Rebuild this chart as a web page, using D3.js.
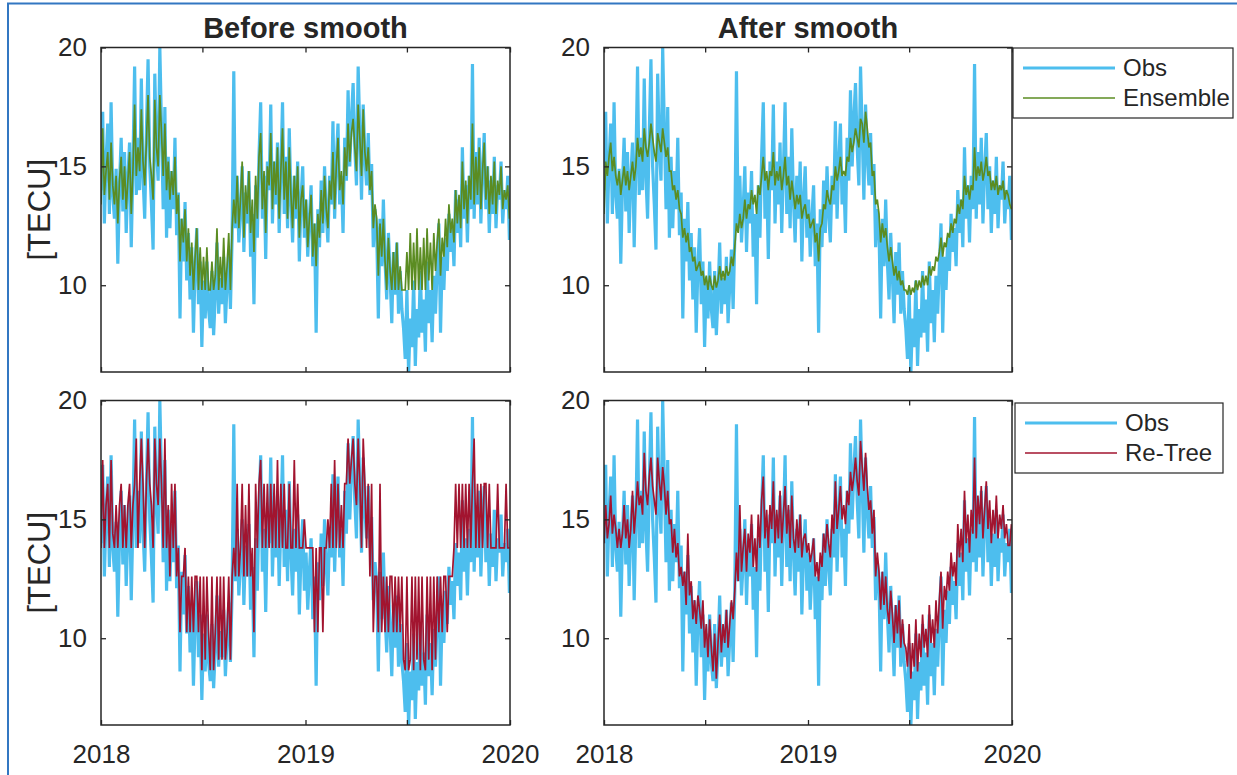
<!DOCTYPE html>
<html>
<head>
<meta charset="utf-8">
<script src="https://cdn.jsdelivr.net/npm/d3@7"></script>
<style>
  body { margin: 0; background: #fff; }
  svg { display: block; }
  text { font-family: "Liberation Sans", Arial, Helvetica, sans-serif; fill: #262626; }
</style>
</head>
<body>
<svg id="fig" width="1237" height="775"></svg>
<script>
// Daily TEC series sampled every third day, 1 Jan 2018 – 31 Dec 2019
const startDate = new Date(2018, 0, 1);
const stepDays = 3;

// Observed TEC [TECU]
const obs = [
  14.0, 17.3, 12.6, 15.2, 16.8, 13.0, 17.7, 13.8, 12.8, 14.9, 10.9, 14.2, 16.2, 13.1, 15.6, 12.2, 14.5, 16.0, 11.6, 15.0,
  19.2, 13.8, 16.2, 14.0, 18.7, 14.6, 12.8, 16.4, 19.5, 15.0, 13.4, 11.5, 18.9, 15.8, 14.4, 20.0, 16.6, 13.2, 17.5, 12.0,
  15.4, 12.4, 14.8, 13.2, 16.2, 12.1, 13.9, 8.6, 12.8, 11.0, 13.5, 10.2, 12.2, 9.4, 11.6, 8.0, 10.8, 12.4, 9.2, 11.0,
  7.4, 10.2, 8.6, 11.0, 9.0, 8.2, 10.6, 7.9, 9.6, 11.8, 8.8, 10.3, 9.2, 11.2, 8.4, 10.0, 11.5, 9.0, 12.0, 19.0,
  12.4, 14.6, 11.8, 13.2, 15.0, 11.4, 13.9, 12.6, 14.8, 11.2, 13.0, 9.2, 14.2, 12.0, 15.4, 17.7, 12.8, 14.6, 11.1, 15.2,
  14.0, 17.6, 12.6, 15.2, 13.4, 16.0, 12.2, 14.8, 17.7, 13.0, 15.4, 12.4, 16.6, 13.6, 11.8, 14.6, 12.8, 15.2, 11.0, 13.6,
  15.0, 12.0, 13.6, 11.2, 12.8, 14.2, 10.8, 12.6, 8.0, 13.2, 11.6, 14.4, 12.2, 15.0, 13.0, 11.8, 14.6, 13.4, 16.9, 12.8,
  15.2, 16.8, 13.4, 14.6, 12.2, 16.2, 14.4, 18.2, 15.0, 17.0, 18.5, 15.8, 14.2, 19.2, 16.4, 13.6, 17.6, 15.4, 14.2, 16.4,
  13.8, 15.1, 11.6, 13.2, 12.4, 8.6, 12.8, 10.8, 13.6, 11.0, 9.4, 12.2, 10.4, 8.4, 11.4, 9.6, 11.8, 8.8, 10.6, 9.0,
  8.2, 6.9, 9.8, 6.3, 8.6, 7.4, 10.2, 6.6, 9.0, 7.8, 10.6, 8.0, 9.4, 7.2, 11.0, 8.4, 9.8, 7.6, 10.4, 8.8,
  10.8, 12.6, 8.0, 11.2, 9.8, 12.0, 10.6, 13.0, 11.4, 12.4, 10.8, 14.0, 12.2, 13.6, 11.6, 15.8, 12.8, 14.2, 11.8, 14.6,
  13.2, 19.3, 12.8, 15.6, 13.4, 16.2, 12.6, 14.8, 16.4, 13.2, 15.0, 12.2, 14.4, 13.0, 15.4, 12.4, 14.2, 13.6, 15.2, 12.6,
  14.0, 13.2, 14.6, 11.9
];

// Ensemble model, before smoothing
const ensembleRaw = [
  13.4, 16.6, 13.8, 14.8, 15.6, 13.6, 16.0, 14.2, 13.4, 14.6, 12.6, 14.4, 15.4, 13.6, 15.0, 13.2, 14.4, 15.6, 13.0, 14.8,
  17.6, 14.6, 15.8, 14.8, 17.4, 15.2, 14.2, 16.0, 18.0, 15.4, 14.6, 13.6, 17.8, 15.8, 15.0, 18.0, 16.4, 14.6, 16.8, 14.0,
  15.2, 13.6, 14.8, 13.8, 15.4, 13.0, 13.8, 11.0, 12.8, 11.8, 13.2, 11.0, 12.4, 10.4, 11.8, 9.8, 11.2, 12.4, 9.8, 11.6,
  9.8, 11.2, 9.8, 11.6, 9.8, 9.8, 11.0, 9.8, 10.4, 12.4, 9.8, 11.2, 9.9, 12.0, 9.8, 10.8, 12.2, 9.8, 12.4, 13.6,
  12.6, 14.6, 12.4, 13.6, 15.2, 12.0, 14.2, 13.0, 14.8, 12.2, 13.6, 11.4, 14.6, 12.8, 15.4, 16.4, 13.2, 14.8, 12.2, 15.0,
  14.2, 16.4, 13.2, 15.2, 13.8, 15.8, 12.8, 14.8, 16.6, 13.6, 15.2, 12.8, 15.8, 13.8, 12.4, 14.6, 13.2, 15.0, 12.0, 13.6,
  14.2, 12.4, 13.6, 11.6, 12.8, 13.8, 11.2, 12.6, 10.8, 13.0, 12.0, 14.0, 12.6, 14.6, 13.2, 12.4, 14.4, 13.6, 15.6, 13.2,
  15.0, 16.2, 14.0, 14.8, 13.4, 15.8, 14.6, 16.8, 15.2, 16.4, 17.0, 15.8, 14.8, 17.6, 16.2, 14.6, 17.4, 15.6, 14.8, 15.8,
  14.0, 14.8, 12.4, 13.4, 12.8, 10.4, 12.6, 11.2, 12.8, 11.0, 9.8, 12.0, 10.6, 9.8, 11.4, 9.8, 11.8, 9.8, 10.8, 9.8,
  9.8, 9.8, 11.4, 9.8, 12.2, 9.8, 11.8, 9.8, 12.4, 9.8, 11.6, 9.8, 12.0, 9.8, 12.4, 10.2, 11.8, 9.8, 12.2, 10.6,
  11.8, 12.8, 10.4, 12.0, 11.2, 12.8, 11.6, 13.4, 12.2, 12.8, 11.8, 14.0, 12.6, 13.8, 12.4, 15.2, 13.2, 14.4, 12.6, 14.6,
  13.6, 16.8, 13.4, 15.4, 13.8, 15.8, 13.2, 14.8, 16.0, 13.6, 15.0, 13.0, 14.6, 13.4, 15.2, 13.0, 14.4, 13.8, 15.0, 13.2,
  14.0, 13.6, 14.2, 12.8
];

// Ensemble model, after smoothing
const ensembleSmooth = [
  13.0, 15.2, 14.6, 15.4, 16.0, 14.8, 15.4, 14.6, 14.2, 14.8, 13.8, 14.4, 15.0, 14.2, 14.8, 14.0, 14.6, 15.2, 14.4, 15.0,
  16.2, 15.4, 15.8, 15.2, 16.6, 15.8, 15.4, 16.0, 16.8, 16.2, 15.6, 15.2, 16.4, 16.0, 15.6, 16.6, 16.0, 15.4, 15.8, 14.8,
  14.8, 14.0, 14.2, 13.6, 14.0, 13.2, 13.0, 12.0, 12.4, 11.8, 12.2, 11.4, 11.6, 11.0, 11.2, 10.6, 10.8, 11.0, 10.4, 10.6,
  10.0, 10.4, 9.8, 10.4, 10.0, 9.8, 10.4, 9.9, 10.2, 10.8, 10.2, 10.6, 10.2, 10.8, 10.4, 10.6, 11.2, 10.8, 11.6, 12.6,
  12.2, 13.0, 12.4, 12.8, 13.6, 12.8, 13.4, 13.2, 14.0, 13.4, 13.8, 13.0, 14.2, 13.8, 14.6, 15.4, 14.4, 14.8, 14.0, 14.8,
  14.6, 15.6, 14.2, 14.8, 14.4, 15.0, 14.0, 14.6, 15.4, 14.2, 14.6, 13.6, 14.4, 13.8, 13.2, 13.8, 13.4, 13.8, 12.8, 13.2,
  13.4, 12.8, 13.0, 12.4, 12.6, 12.8, 11.8, 12.2, 11.0, 12.4, 12.6, 13.4, 13.2, 14.0, 13.6, 13.4, 14.2, 14.0, 15.0, 14.4,
  14.8, 15.4, 14.6, 14.8, 14.6, 15.4, 15.2, 16.2, 15.6, 16.0, 16.6, 16.2, 15.8, 17.0, 16.8, 16.0, 17.3, 16.6, 15.8, 16.0,
  14.6, 14.8, 13.4, 13.6, 13.0, 11.8, 12.6, 12.0, 12.4, 11.6, 11.0, 11.6, 11.0, 10.4, 10.8, 10.2, 10.6, 10.0, 10.2, 9.8,
  9.8, 9.6, 10.0, 9.6, 9.9, 9.7, 10.2, 9.8, 10.2, 9.9, 10.4, 10.0, 10.4, 10.0, 10.8, 10.4, 10.8, 10.6, 11.2, 11.0,
  11.4, 12.0, 11.2, 11.8, 11.6, 12.2, 12.0, 12.6, 12.2, 12.8, 12.6, 13.4, 13.0, 13.6, 13.2, 14.6, 13.8, 14.2, 13.6, 14.2,
  14.0, 15.8, 14.4, 15.0, 14.6, 15.2, 14.4, 14.8, 15.4, 14.6, 14.8, 14.0, 14.4, 14.0, 14.6, 13.8, 14.2, 14.0, 14.4, 13.6,
  14.0, 13.8, 13.4, 13.2
];

// Regression tree model, before smoothing
const reTreeRaw = [
  13.8, 17.5, 13.8, 15.6, 16.5, 13.8, 17.5, 14.4, 13.8, 15.6, 13.8, 15.6, 16.5, 13.8, 15.6, 13.8, 15.6, 16.5, 13.8, 15.6,
  16.5, 18.4, 13.8, 16.5, 18.4, 16.5, 13.8, 16.5, 18.4, 16.5, 15.6, 13.8, 18.4, 16.5, 15.6, 18.4, 16.5, 13.8, 18.4, 13.8,
  15.6, 12.6, 16.5, 13.8, 16.5, 12.6, 13.8, 10.25, 12.6, 12.6, 13.8, 10.25, 12.6, 10.25, 12.6, 10.25, 12.6, 12.6, 10.25, 12.6,
  8.65, 12.6, 9.1, 12.6, 10.25, 8.65, 12.6, 8.65, 10.25, 12.6, 9.1, 12.6, 9.1, 12.6, 9.1, 10.25, 12.6, 9.1, 12.6, 13.8,
  12.6, 16.5, 12.6, 13.8, 16.5, 12.6, 15.6, 12.6, 16.5, 12.6, 13.8, 10.25, 16.5, 13.8, 16.5, 17.5, 13.8, 16.5, 13.8, 16.5,
  13.8, 16.5, 13.8, 16.5, 13.8, 17.5, 13.8, 16.5, 13.8, 16.5, 13.8, 13.8, 16.5, 13.8, 13.8, 17.5, 13.8, 16.5, 13.8, 13.8,
  13.8, 15.0, 13.8, 13.8, 13.8, 13.8, 13.8, 10.25, 13.8, 10.25, 13.8, 13.8, 10.25, 13.8, 13.8, 15.0, 13.8, 16.5, 13.8, 17.5,
  13.8, 16.5, 13.8, 15.6, 13.8, 16.5, 16.5, 18.4, 16.5, 17.5, 18.4, 16.5, 15.6, 18.4, 16.5, 13.8, 18.4, 16.5, 13.8, 16.5,
  12.6, 16.5, 10.25, 12.6, 12.6, 10.25, 16.5, 10.25, 12.6, 10.25, 12.6, 10.25, 12.6, 12.6, 10.25, 12.6, 10.25, 12.6, 10.25, 12.6,
  9.1, 8.65, 12.6, 8.65, 9.1, 12.6, 8.65, 12.6, 9.1, 12.6, 8.65, 12.6, 9.1, 8.65, 12.6, 9.1, 12.6, 8.65, 12.6, 9.1,
  12.6, 10.25, 12.6, 10.25, 12.6, 12.6, 10.25, 12.6, 12.6, 12.6, 13.8, 16.5, 13.8, 16.5, 13.8, 16.5, 13.8, 16.5, 13.8, 16.5,
  13.8, 16.5, 18.4, 13.8, 16.5, 13.8, 16.5, 13.8, 16.5, 16.5, 13.8, 16.5, 13.8, 13.8, 13.8, 13.8, 16.5, 13.8, 13.8, 13.8,
  13.8, 16.5, 13.8, 13.8
];

// Regression tree model, after smoothing
const reTreeSmooth = [
  14.0, 15.6, 14.2, 14.8, 16.0, 14.4, 15.2, 14.6, 13.8, 14.6, 13.8, 14.4, 15.6, 14.2, 15.0, 13.8, 14.6, 16.2, 14.4, 15.4,
  16.6, 15.6, 16.0, 15.2, 17.8, 16.2, 15.6, 16.8, 17.6, 16.4, 15.8, 15.2, 17.6, 16.6, 15.8, 17.2, 16.4, 15.2, 16.2, 14.8,
  15.0, 13.6, 14.6, 13.4, 14.0, 12.6, 13.0, 12.2, 12.8, 11.4, 14.4, 11.8, 12.4, 10.8, 11.6, 10.6, 11.8, 11.2, 10.4, 11.6,
  9.6, 10.6, 9.2, 10.8, 9.6, 8.6, 10.2, 8.3, 9.8, 11.0, 9.4, 10.6, 9.8, 11.2, 9.6, 10.6, 11.6, 10.8, 12.0, 13.6,
  12.4, 15.6, 12.8, 13.8, 14.6, 12.8, 14.4, 13.6, 15.2, 13.0, 14.2, 12.8, 15.2, 13.8, 15.8, 16.8, 14.2, 15.4, 13.8, 15.6,
  14.6, 16.6, 14.0, 15.4, 14.2, 16.2, 14.0, 15.2, 16.4, 14.4, 15.6, 13.8, 16.0, 14.2, 13.6, 15.0, 13.8, 15.2, 13.4, 14.2,
  14.4, 13.6, 14.0, 13.2, 13.6, 14.2, 12.6, 13.2, 12.4, 13.6, 13.0, 14.4, 13.6, 14.8, 14.0, 13.4, 15.2, 14.4, 16.6, 14.6,
  15.4, 16.4, 15.0, 15.6, 14.8, 16.2, 15.6, 17.0, 16.2, 16.8, 17.6, 16.6, 16.0, 18.3, 17.2, 16.2, 17.8, 16.4, 15.4, 15.8,
  14.4, 15.4, 12.6, 13.6, 12.8, 11.2, 12.8, 11.4, 12.6, 11.2, 10.6, 12.0, 11.0, 9.8, 11.4, 10.2, 11.6, 9.6, 10.8, 9.8,
  9.6, 8.8, 10.6, 8.3, 9.8, 8.8, 10.8, 8.6, 10.2, 9.2, 11.0, 9.6, 10.4, 9.2, 11.4, 9.8, 10.8, 9.6, 11.6, 10.2,
  11.6, 12.8, 10.4, 12.2, 11.6, 12.8, 12.0, 13.6, 12.6, 13.2, 12.2, 14.8, 13.4, 14.6, 13.2, 16.2, 14.0, 15.2, 13.6, 15.4,
  14.4, 17.6, 14.2, 16.0, 14.8, 16.4, 14.2, 15.4, 16.6, 14.6, 15.8, 14.0, 15.4, 14.4, 16.0, 14.2, 15.2, 14.6, 15.6, 14.2,
  14.8, 13.9, 13.9, 14.8
];

// Axis ticks and labels
const yTicks = [10, 15, 20];
const xTickDates = ["2018-01-01", "2018-07-01", "2019-01-01", "2019-07-01", "2020-01-01"];
const xTickLabels = ["2018", "", "2019", "", "2020"];
const titles = ["Before smooth", "After smooth"];
const yLabel = "[TECU]";
const legendEnsemble = ["Obs", "Ensemble"];
const legendReTree = ["Obs", "Re-Tree"];

const colors = { obs: "#4DBEEE", ensemble: "#5B8C22", reTree: "#A2142F", axis: "#262626" };

const dates = obs.map((_, i) => d3.timeDay.offset(startDate, i * stepDays));
const tickDates = xTickDates.map(s => d3.timeParse("%Y-%m-%d")(s));

const svg = d3.select("#fig");

// Figure frame (top and left edges)
svg.append("path")
  .attr("d", "M8,775 V3.5 H1237")
  .attr("fill", "none").attr("stroke", "#3277C2").attr("stroke-width", 2);

const panels = [
  { id: "tl", x0: 101, x1: 510, y0: 47.5, y1: 372, model: ensembleRaw, color: colors.ensemble, title: titles[0], ylab: true, xlab: false },
  { id: "tr", x0: 604, x1: 1012, y0: 47.5, y1: 372, model: ensembleSmooth, color: colors.ensemble, title: titles[1], ylab: false, xlab: false },
  { id: "bl", x0: 101, x1: 510, y0: 400.5, y1: 725, model: reTreeRaw, color: colors.reTree, ylab: true, xlab: true },
  { id: "br", x0: 604, x1: 1012, y0: 400.5, y1: 725, model: reTreeSmooth, color: colors.reTree, ylab: false, xlab: true }
];

const yDomain = [6.35, 20];

panels.forEach(p => {
  const x = d3.scaleTime().domain([new Date(2018, 0, 1), new Date(2020, 0, 1)]).range([p.x0, p.x1]);
  const y = d3.scaleLinear().domain(yDomain).range([p.y1, p.y0]);
  const g = svg.append("g");

  g.append("clipPath").attr("id", "clip-" + p.id)
    .append("rect").attr("x", p.x0).attr("y", p.y0)
    .attr("width", p.x1 - p.x0).attr("height", p.y1 - p.y0);

  const line = d3.line().x((d, i) => x(dates[i])).y(d => y(d));

  const plot = g.append("g").attr("clip-path", `url(#clip-${p.id})`);
  plot.append("path").datum(obs).attr("d", line)
    .attr("fill", "none").attr("stroke", colors.obs).attr("stroke-width", 3.2)
    .attr("stroke-linejoin", "miter").attr("stroke-miterlimit", 2);
  plot.append("path").datum(p.model).attr("d", line)
    .attr("fill", "none").attr("stroke", p.color).attr("stroke-width", 1.7)
    .attr("stroke-linejoin", "miter").attr("stroke-miterlimit", 2);

  const fmtX = (d, i) => p.xlab ? xTickLabels[i] : "";

  const bottom = g.append("g").attr("transform", `translate(0,${p.y1})`)
    .call(d3.axisBottom(x).tickValues(tickDates).tickSizeInner(-5).tickSizeOuter(0).tickPadding(20).tickFormat(fmtX));
  const top = g.append("g").attr("transform", `translate(0,${p.y0})`)
    .call(d3.axisTop(x).tickValues(tickDates).tickSizeInner(-5).tickSizeOuter(0).tickFormat(""));
  const left = g.append("g").attr("transform", `translate(${p.x0},0)`)
    .call(d3.axisLeft(y).tickValues(yTicks).tickSizeInner(-5).tickSizeOuter(0).tickPadding(14).tickFormat(d3.format("d")));
  const right = g.append("g").attr("transform", `translate(${p.x1},0)`)
    .call(d3.axisRight(y).tickValues(yTicks).tickSizeInner(-5).tickSizeOuter(0).tickFormat(""));

  [bottom, top, left, right].forEach(a => {
    a.select(".domain").remove();
    a.selectAll(".tick line").attr("stroke", colors.axis).attr("stroke-width", 1.3);
    a.selectAll(".tick text").attr("font-size", 26).attr("fill", colors.axis)
      .style("font-family", '"Liberation Sans", Arial, sans-serif');
  });

  g.append("rect").attr("x", p.x0).attr("y", p.y0)
    .attr("width", p.x1 - p.x0).attr("height", p.y1 - p.y0)
    .attr("fill", "none").attr("stroke", colors.axis).attr("stroke-width", 1.5);

  if (p.title) {
    g.append("text").attr("x", (p.x0 + p.x1) / 2).attr("y", 38)
      .attr("text-anchor", "middle").attr("font-size", 29).attr("font-weight", "bold")
      .attr("fill", "#000").text(p.title);
  }
  if (p.ylab) {
    g.append("text")
      .attr("transform", `translate(50,${(p.y0 + p.y1) / 2}) rotate(-90)`)
      .attr("text-anchor", "middle").attr("font-size", 31).text(yLabel);
  }
});

// Legends
function legend(x0, y0, w, h, labels, modelColor) {
  const g = svg.append("g");
  g.append("rect").attr("x", x0).attr("y", y0).attr("width", w).attr("height", h)
    .attr("fill", "#fff").attr("stroke", colors.axis).attr("stroke-width", 1.2);
  const rows = [
    { label: labels[0], color: colors.obs, width: 3 },
    { label: labels[1], color: modelColor, width: 1.5 }
  ];
  rows.forEach((r, i) => {
    const yy = y0 + 20 + i * 30;
    g.append("line").attr("x1", x0 + 10).attr("x2", x0 + 102).attr("y1", yy).attr("y2", yy)
      .attr("stroke", r.color).attr("stroke-width", r.width);
    g.append("text").attr("x", x0 + 110).attr("y", yy).attr("dy", "0.35em")
      .attr("font-size", 24).text(r.label);
  });
}
legend(1013, 48, 220, 70, legendEnsemble, colors.ensemble);
legend(1015, 403, 208, 70, legendReTree, colors.reTree);
</script>
</body>
</html>
